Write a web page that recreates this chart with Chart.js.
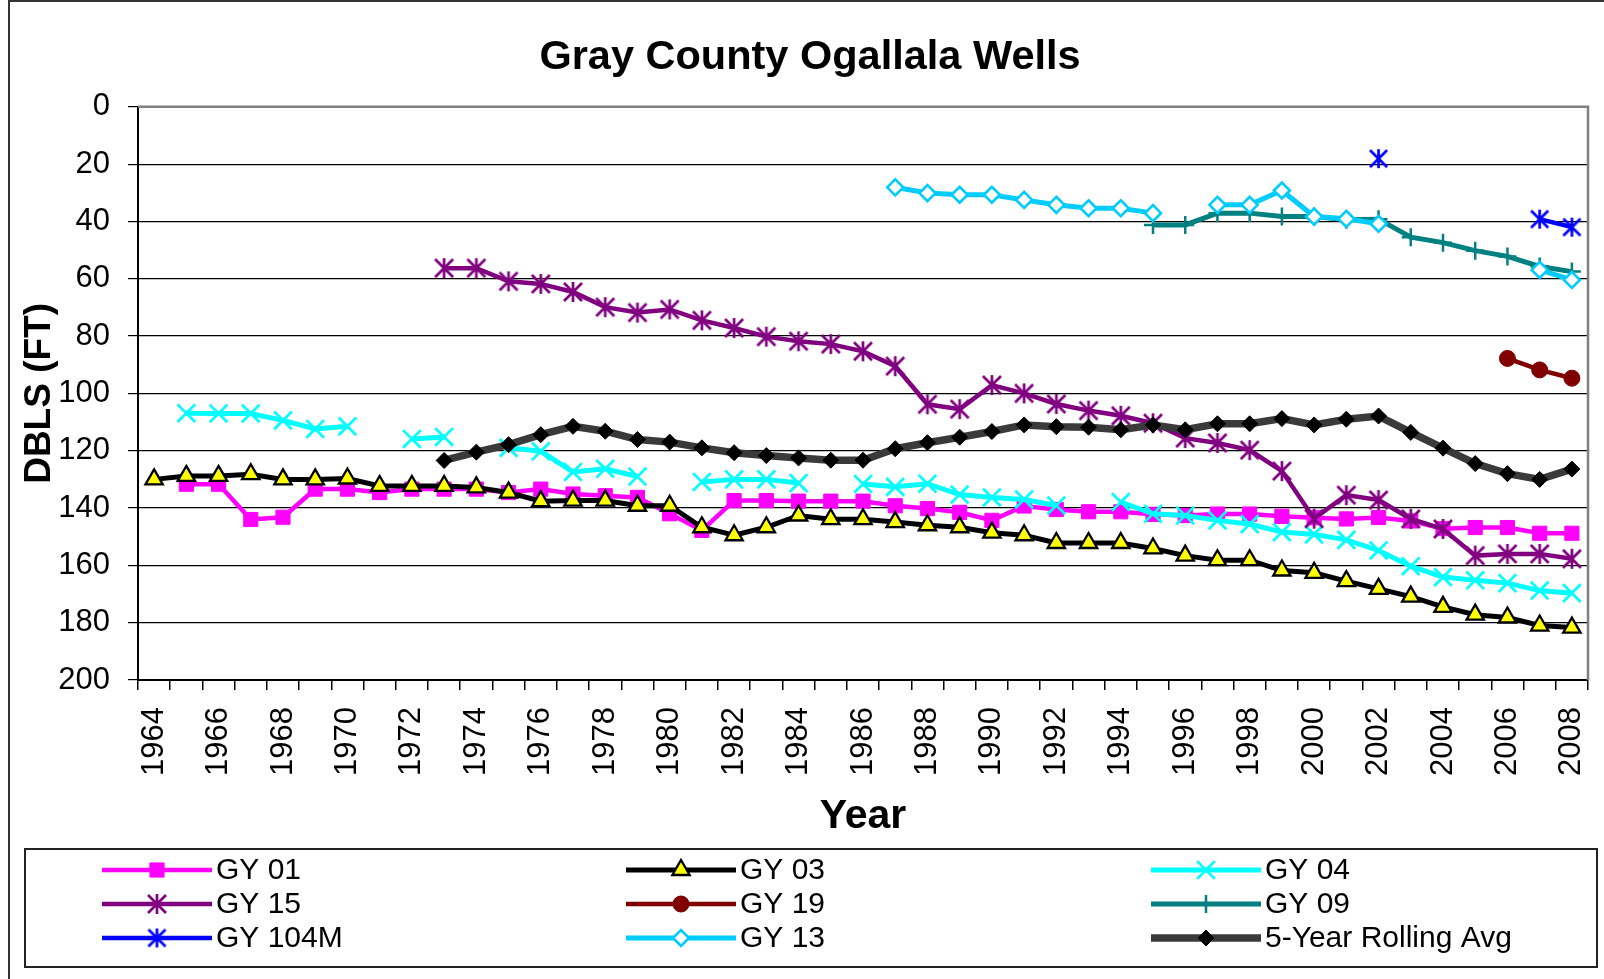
<!DOCTYPE html>
<html>
<head>
<meta charset="utf-8">
<script src="https://cdn.jsdelivr.net/npm/chart.js@4.4.0/dist/chart.umd.min.js"></script>
<style>
html,body{margin:0;padding:0;background:#fff;}
canvas{display:block;}
</style>
</head>
<body>
<canvas id="c" width="1604" height="979"></canvas>
<script>
// ---------- DATA ----------
const years = ['1964','1965','1966','1967','1968','1969','1970','1971','1972','1973','1974','1975',
  '1976','1977','1978','1979','1980','1981','1982','1983','1984','1985','1986','1987',
  '1988','1989','1990','1991','1992','1993','1994','1995','1996','1997','1998','1999',
  '2000','2001','2002','2003','2004','2005','2006','2007','2008'];
const yTickValues = [0,20,40,60,80,100,120,140,160,180,200];

const gy01 = [null,131.7,131.7,144.0,143.2,133.4,133.4,134.6,133.4,133.4,133.4,134.6,
  133.4,135.1,135.7,136.3,142.0,147.8,137.4,137.4,137.6,137.6,137.6,139.2,
  140.2,141.5,144.3,139.3,140.5,141.3,141.3,142.2,142.6,142.1,142.1,142.9,
  143.4,143.8,143.3,144.5,147.2,146.8,146.8,148.8,148.8];
const gy03 = [130.0,128.8,128.8,128.2,130.0,130.0,129.7,132.3,132.3,132.3,132.8,134.6,
  137.6,137.4,137.4,139.2,139.2,146.7,149.5,146.7,142.6,143.9,143.9,144.9,
  146.0,146.7,148.6,149.5,152.2,152.2,152.2,154.1,156.6,158.2,158.2,161.8,
  162.6,165.5,168.2,170.9,174.5,177.2,178.2,181.0,181.7];
const gy04 = [null,106.9,107.0,107.0,109.4,112.4,111.5,null,115.9,115.2,null,119.0,
  120.2,127.4,126.3,129.0,null,130.9,130.0,130.0,131.3,null,131.6,132.6,
  131.5,135.3,136.3,137.0,139.1,null,137.9,142.0,142.6,144.3,145.6,148.4,
  149.2,151.1,154.8,160.3,164.1,165.2,166.2,168.8,169.7];
const gy15 = [null,null,null,null,null,null,null,null,null,56.3,56.3,60.9,
  61.8,64.6,69.9,71.8,70.7,74.5,77.2,80.2,81.8,82.8,85.3,90.5,
  103.8,105.5,97.1,100.0,103.7,106.0,107.8,110.4,115.6,117.3,119.8,127.1,
  143.7,135.5,137.2,143.8,147.3,156.6,156.0,156.0,157.7];
const gy19 = [null,null,null,null,null,null,null,null,null,null,null,null,
  null,null,null,null,null,null,null,null,null,null,null,null,
  null,null,null,null,null,null,null,null,null,null,null,null,
  null,null,null,null,null,null,87.8,91.8,94.7];
const gy09 = [null,null,null,null,null,null,null,null,null,null,null,null,
  null,null,null,null,null,null,null,null,null,null,null,null,
  null,null,null,null,null,null,null,41.2,41.2,37.1,37.1,38.3,
  38.3,39.4,39.2,45.5,47.4,50.2,52.2,55.7,57.5];
const gy104m = [null,null,null,null,null,null,null,null,null,null,null,null,
  null,null,null,null,null,null,null,null,null,null,null,null,
  null,null,null,null,null,null,null,null,null,null,null,null,
  null,null,18.1,null,null,null,null,39.2,42.0];
const gy13 = [null,null,null,null,null,null,null,null,null,null,null,null,
  null,null,null,null,null,null,null,null,null,null,null,28.1,
  30.1,30.7,30.7,32.5,34.2,35.4,35.4,37.1,null,34.2,34.2,29.2,
  38.3,39.1,40.8,null,null,null,null,56.9,60.4];
const rollingAvg = [null,null,null,null,null,null,null,null,null,123.4,120.5,117.9,
  114.4,111.5,113.2,116.1,117.0,119.0,120.7,121.7,122.5,123.3,123.3,119.3,
  117.2,115.3,113.3,111.0,111.6,111.8,112.7,111.0,112.7,110.6,110.6,108.8,
  111.0,109.0,107.9,113.6,119.1,124.5,128.0,130.0,126.4];

// ---------- STYLE ----------
const FONT = "'Liberation Sans', Arial, Helvetica, sans-serif";

function asterisk(color, r, lw) {
  const s = Math.ceil(2 * r + lw * 2);
  const cv = document.createElement('canvas');
  cv.width = s; cv.height = s;
  const g = cv.getContext('2d');
  const c = s / 2, d = r * 0.9;
  g.strokeStyle = color; g.lineWidth = lw;
  g.beginPath();
  g.moveTo(c, c - r); g.lineTo(c, c + r);
  g.moveTo(c - d, c - d); g.lineTo(c + d, c + d);
  g.moveTo(c + d, c - d); g.lineTo(c - d, c + d);
  g.stroke();
  return cv;
}

const seriesDefs = [
  {label:'GY 01', data:gy01, borderColor:'#FF00FF', borderWidth:4.5, pointStyle:'rect', pointRadius:10,
   pointBackgroundColor:'#FF00FF', pointBorderColor:'#FF00FF', pointBorderWidth:1},
  {label:'GY 03', data:gy03, borderColor:'#000000', borderWidth:5, pointStyle:'triangle', pointRadius:10,
   pointBackgroundColor:'#FFFF00', pointBorderColor:'#000000', pointBorderWidth:2.3},
  {label:'GY 04', data:gy04, borderColor:'#00FFFF', borderWidth:5, pointStyle:'crossRot', pointRadius:12.5,
   pointBackgroundColor:'#00FFFF', pointBorderColor:'#00FFFF', pointBorderWidth:2.7},
  {label:'GY 15', data:gy15, borderColor:'#800080', borderWidth:4.5, pointStyle:asterisk('#800080', 10, 2.7), pointRadius:9,
   pointBackgroundColor:'#800080', pointBorderColor:'#800080', pointBorderWidth:2.5},
  {label:'GY 19', data:gy19, borderColor:'#800000', borderWidth:4.5, pointStyle:'circle', pointRadius:8,
   pointBackgroundColor:'#800000', pointBorderColor:'#800000', pointBorderWidth:1},
  {label:'GY 09', data:gy09, borderColor:'#008080', borderWidth:5, pointStyle:'cross', pointRadius:9,
   pointBackgroundColor:'#008080', pointBorderColor:'#008080', pointBorderWidth:2.5},
  {label:'GY 104M', data:gy104m, borderColor:'#0000FF', borderWidth:4.5, pointStyle:asterisk('#0000FF', 9.5, 2.7), pointRadius:9,
   pointBackgroundColor:'#0000FF', pointBorderColor:'#0000FF', pointBorderWidth:2.5},
  {label:'GY 13', data:gy13, borderColor:'#00CCFF', borderWidth:5, pointStyle:'rectRot', pointRadius:8,
   pointBackgroundColor:'#FFFFFF', pointBorderColor:'#00CCFF', pointBorderWidth:2.6},
  {label:'5-Year Rolling Avg', data:rollingAvg, borderColor:'#3a3a3a', borderWidth:7.5, pointStyle:'rectRot', pointRadius:8,
   pointBackgroundColor:'#000000', pointBorderColor:'#000000', pointBorderWidth:1}
];

const datasets = seriesDefs.map((d, i) => Object.assign({
  fill:false, tension:0, spanGaps:false, order: seriesDefs.length - i,
  backgroundColor: d.pointBackgroundColor, pointHoverRadius: d.pointRadius
}, d));

// ---------- PLUGINS ----------
const framePlugin = {
  id: 'frame',
  beforeDraw(chart) {
    const {ctx, width, height} = chart;
    ctx.save();
    ctx.fillStyle = '#fff';
    ctx.fillRect(0, 0, width, height);
    ctx.strokeStyle = '#333';
    ctx.lineWidth = 2;
    ctx.beginPath();
    ctx.moveTo(9, height); ctx.lineTo(9, 1); ctx.lineTo(width, 1);
    ctx.stroke();
    ctx.restore();
  },
  beforeDatasetsDraw(chart) {
    const {ctx, chartArea: a} = chart;
    ctx.save();
    ctx.strokeStyle = '#808080';
    ctx.lineWidth = 2.5;
    ctx.beginPath();
    ctx.moveTo(a.left, a.top); ctx.lineTo(a.right, a.top); ctx.lineTo(a.right, a.bottom);
    ctx.stroke();
    ctx.restore();
  }
};

const legendCols = [102, 626, 1151];
const legendRows = [870, 904, 938];
const legendPlugin = {
  id: 'gridLegend',
  afterDraw(chart) {
    const ctx = chart.ctx;
    ctx.save();
    ctx.strokeStyle = '#222';
    ctx.lineWidth = 2;
    ctx.strokeRect(25, 849, 1572, 118);
    chart.data.datasets.forEach((ds, i) => {
      const x0 = legendCols[i % 3], y = legendRows[Math.floor(i / 3)];
      ctx.strokeStyle = ds.borderColor;
      ctx.lineWidth = ds.borderWidth;
      ctx.lineCap = 'butt';
      ctx.beginPath(); ctx.moveTo(x0, y); ctx.lineTo(x0 + 110, y); ctx.stroke();
      const cx = x0 + 55;
      if (ds.pointStyle instanceof HTMLCanvasElement) {
        ctx.drawImage(ds.pointStyle, cx - ds.pointStyle.width / 2, y - ds.pointStyle.height / 2);
      } else {
        ctx.fillStyle = ds.pointBackgroundColor;
        ctx.strokeStyle = ds.pointBorderColor;
        ctx.lineWidth = ds.pointBorderWidth;
        Chart.helpers.drawPoint(ctx, {pointStyle: ds.pointStyle, radius: ds.pointRadius, rotation: 0,
          borderWidth: ds.pointBorderWidth}, cx, y);
      }
      ctx.fillStyle = '#000';
      ctx.font = '30px ' + FONT;
      ctx.textAlign = 'left';
      ctx.textBaseline = 'middle';
      ctx.fillText(ds.label, x0 + 114, y + 1);
    });
    ctx.restore();
  }
};

// ---------- CHART ----------
new Chart(document.getElementById('c'), {
  type: 'line',
  data: { labels: years, datasets: datasets },
  plugins: [framePlugin, legendPlugin],
  options: {
    responsive: false,
    devicePixelRatio: 1,
    animation: false,
    layout: { padding: { left: 32, right: 16, top: 0, bottom: 142 } },
    plugins: {
      legend: { display: false },
      tooltip: { enabled: false },
      title: {
        display: true,
        text: 'Gray County Ogallala Wells',
        color: '#000',
        font: { family: FONT, size: 41.5, weight: 'bold', lineHeight: 1.2 },
        padding: { top: 33, bottom: 24 }
      }
    },
    scales: {
      x: {
        type: 'category',
        offset: true,
        afterFit(scale) { scale.height = 157; scale.paddingLeft = 0; scale.paddingRight = 0; },
        grid: { offset: true, drawOnChartArea: false, drawTicks: true, tickLength: 10, color: '#000', lineWidth: 1.5 },
        border: { display: true, color: '#000', width: 2 },
        ticks: {
          autoSkip: false, maxRotation: 90, minRotation: 90, padding: 17, color: '#000',
          font: { family: FONT, size: 31 },
          callback(value, index) { return index % 2 === 0 ? this.getLabelForValue(value) : ''; }
        },
        title: {
          display: true, text: 'Year', color: '#000',
          font: { family: FONT, size: 41, weight: 'bold', lineHeight: 1 },
          padding: { top: 0, bottom: 0 }
        }
      },
      y: {
        reverse: true,
        min: 0, max: 200,
        afterFit(scale) { scale.width = 106; scale.paddingTop = 0; scale.paddingBottom = 0; },
        afterBuildTicks(scale) { scale.ticks = yTickValues.map(v => ({ value: v })); },
        grid: { color: '#000', lineWidth: 1.2, tickLength: 10, drawTicks: true },
        border: { display: true, color: '#000', width: 2 },
        ticks: { padding: 18, color: '#000', font: { family: FONT, size: 31 } },
        title: {
          display: true, text: 'DBLS (FT)', color: '#000',
          font: { family: FONT, size: 37, weight: 'bold', lineHeight: 1 },
          padding: { top: -11, bottom: 0 }
        }
      }
    }
  }
});
</script>
</body>
</html>
